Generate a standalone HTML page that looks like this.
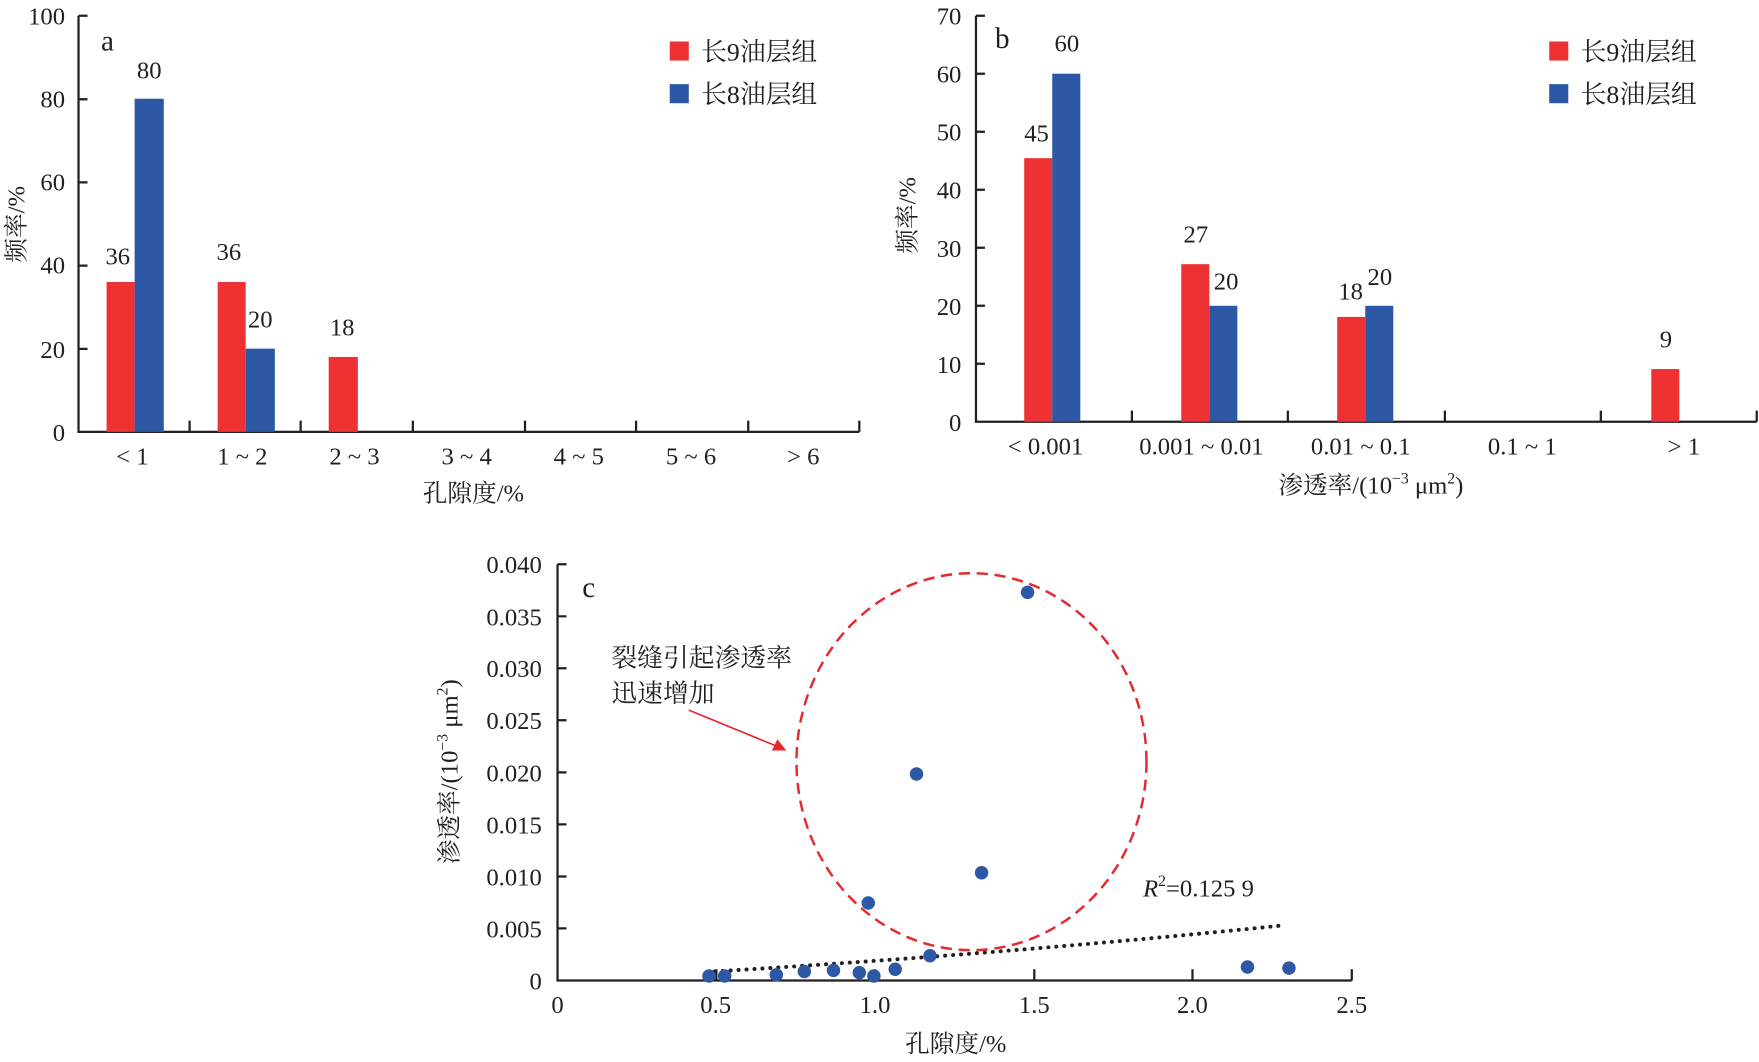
<!DOCTYPE html>
<html><head><meta charset="utf-8"><style>
html,body{margin:0;padding:0;background:#fff;}
svg{display:block;}
text{font-family:"Liberation Serif","Noto Serif CJK SC",serif;fill:#231f20;}
</style></head><body>
<svg width="1759" height="1062" viewBox="0 0 1568 946.7" preserveAspectRatio="none" xmlns="http://www.w3.org/2000/svg">
<g stroke="#231f20" stroke-width="2" fill="none">
<!-- chart a axes -->
<path d="M70 14V385H766"/>
<path d="M70 14h8M70 88.5h8M70 162.6h8M70 236.8h8M70 311h8"/>
<path d="M169 385v-10M268 385v-10M368 385v-10M468 385v-10M567 385v-10M667 385v-10M766 385v-10"/>
<!-- chart b axes -->
<path d="M870 14V376H1566"/>
<path d="M870 14h8M870 65.7h8M870 117.4h8M870 169.1h8M870 220.9h8M870 272.6h8M870 324.3h8"/>
<path d="M1009 376v-10M1148 376v-10M1288 376v-10M1427 376v-10M1566 376v-10"/>
<!-- chart c axes -->
<path d="M497 503V874H1205"/>
<path d="M497 503h8M497 549.4h8M497 595.7h8M497 642.1h8M497 688.5h8M497 734.9h8M497 781.3h8M497 827.6h8"/>
<path d="M638.6 874v-10M780 874v-10M922 874v-10M1063 874v-10M1205 874v-10"/>
</g>
<!-- chart a bars -->
<g>
<rect x="95" y="251.4" width="25" height="133.6" fill="#ee3233"/>
<rect x="120" y="88" width="26" height="297" fill="#2d58a6"/>
<rect x="194" y="251.4" width="25" height="133.6" fill="#ee3233"/>
<rect x="219" y="310.8" width="26" height="74.2" fill="#2d58a6"/>
<rect x="293" y="318.2" width="26" height="66.8" fill="#ee3233"/>
</g>
<g font-size="22" text-anchor="middle">
<text x="105" y="236">36</text><text x="133" y="70">80</text>
<text x="204" y="232">36</text><text x="232" y="292">20</text>
<text x="305" y="299">18</text>
</g>
<g font-size="22" text-anchor="end">
<text x="58" y="22">100</text><text x="58" y="96">80</text><text x="58" y="170">60</text>
<text x="58" y="244">40</text><text x="58" y="319">20</text><text x="58" y="393">0</text>
</g>
<g font-size="22" text-anchor="middle">
<text x="118" y="414">&lt; 1</text><text x="216" y="414">1 ~ 2</text><text x="316" y="414">2 ~ 3</text>
<text x="416" y="414">3 ~ 4</text><text x="516" y="414">4 ~ 5</text><text x="616" y="414">5 ~ 6</text>
<text x="716" y="414">&gt; 6</text>
<text x="422" y="447">孔隙度/%</text>
</g>
<text x="0" y="0" font-size="22" text-anchor="middle" transform="translate(22,200) rotate(-90)">频率/%</text>
<text x="90" y="45" font-size="26">a</text>
<rect x="597" y="37" width="17" height="17" fill="#ee3233"/>
<rect x="597" y="75" width="17" height="17" fill="#2d58a6"/>
<text x="625" y="54" font-size="23">长9油层组</text>
<text x="625" y="92" font-size="23">长8油层组</text>

<!-- chart b bars -->
<rect x="913" y="141" width="25" height="235" fill="#ee3233"/>
<rect x="938" y="65.7" width="25" height="310.3" fill="#2d58a6"/>
<rect x="1053" y="235.5" width="25" height="140.5" fill="#ee3233"/>
<rect x="1078" y="272.6" width="25" height="103.4" fill="#2d58a6"/>
<rect x="1192" y="282.5" width="25" height="93.5" fill="#ee3233"/>
<rect x="1217" y="272.6" width="25" height="103.4" fill="#2d58a6"/>
<rect x="1472" y="329" width="25" height="47" fill="#ee3233"/>
<g font-size="22" text-anchor="middle">
<text x="924" y="126">45</text><text x="951" y="46">60</text>
<text x="1066" y="216">27</text><text x="1093" y="258">20</text>
<text x="1204" y="267">18</text><text x="1230" y="254">20</text>
<text x="1485" y="310">9</text>
</g>
<g font-size="22" text-anchor="end">
<text x="857" y="22">70</text><text x="857" y="73.7">60</text><text x="857" y="125.4">50</text>
<text x="857" y="177">40</text><text x="857" y="229">30</text><text x="857" y="280.6">20</text>
<text x="857" y="332.3">10</text><text x="857" y="384">0</text>
</g>
<g font-size="22" text-anchor="middle">
<text x="932" y="405">&lt; 0.001</text><text x="1071" y="405">0.001 ~ 0.01</text>
<text x="1213" y="405">0.01 ~ 0.1</text><text x="1357" y="405">0.1 ~ 1</text>
<text x="1501" y="405">&gt; 1</text>
<text x="1222" y="440">渗透率/(10<tspan font-size="14" dy="-9">−3</tspan><tspan dy="9"> μm</tspan><tspan font-size="14" dy="-9">2</tspan><tspan dy="9">)</tspan></text>
</g>
<text x="0" y="0" font-size="22" text-anchor="middle" transform="translate(816,192) rotate(-90)">频率/%</text>
<text x="887" y="43" font-size="26">b</text>
<rect x="1381" y="37" width="17" height="17" fill="#ee3233"/>
<rect x="1381" y="75" width="17" height="17" fill="#2d58a6"/>
<text x="1409" y="54" font-size="23">长9油层组</text>
<text x="1409" y="92" font-size="23">长8油层组</text>

<!-- chart c -->
<g font-size="22" text-anchor="end">
<text x="483" y="511">0.040</text><text x="483" y="557.4">0.035</text><text x="483" y="603.7">0.030</text>
<text x="483" y="650">0.025</text><text x="483" y="696.5">0.020</text><text x="483" y="743">0.015</text>
<text x="483" y="789.3">0.010</text><text x="483" y="835.6">0.005</text><text x="483" y="882">0</text>
</g>
<g font-size="22" text-anchor="middle">
<text x="497" y="903">0</text><text x="638" y="903">0.5</text><text x="780" y="903">1.0</text>
<text x="922" y="903">1.5</text><text x="1063" y="903">2.0</text><text x="1205" y="903">2.5</text>
<text x="852" y="938">孔隙度/%</text>
</g>
<text x="0" y="0" font-size="22" text-anchor="middle" transform="translate(408,688) rotate(-90)">渗透率/(10<tspan font-size="14" dy="-9">−3</tspan><tspan dy="9"> μm</tspan><tspan font-size="14" dy="-9">2</tspan><tspan dy="9">)</tspan></text>
<text x="519" y="532" font-size="26">c</text>
<ellipse cx="866" cy="679" rx="156" ry="168" fill="none" stroke="#e52a2e" stroke-width="2.2" stroke-dasharray="10 6"/>
<path d="M637 866 Q900 850 1143 825" fill="none" stroke="#231f20" stroke-width="3.5" stroke-dasharray="0.1 7" stroke-linecap="round"/>
<g fill="#2d58a6">
<circle cx="632" cy="870" r="6"/><circle cx="646" cy="870" r="6"/><circle cx="692" cy="869" r="6"/>
<circle cx="717" cy="866" r="6"/><circle cx="743" cy="865" r="6"/><circle cx="766" cy="867" r="6"/>
<circle cx="779" cy="870" r="6"/><circle cx="798" cy="864" r="6"/><circle cx="829" cy="852" r="6"/>
<circle cx="774" cy="805" r="6"/><circle cx="817" cy="690" r="6"/><circle cx="875" cy="778" r="6"/>
<circle cx="916" cy="528" r="6"/><circle cx="1112" cy="862" r="6"/><circle cx="1149" cy="863" r="6"/>
</g>
<text x="545" y="594" font-size="23">裂缝引起渗透率</text>
<text x="545" y="626" font-size="23">迅速增加</text>
<line x1="614" y1="633" x2="692" y2="665" stroke="#e52a2e" stroke-width="1.5"/>
<polygon points="701,669 688,669 693,659" fill="#e52a2e"/>
<text x="1019" y="799" font-size="22"><tspan font-style="italic">R</tspan><tspan font-size="14" dy="-9">2</tspan><tspan dy="9">=0.125 9</tspan></text>
</svg>
</body></html>
